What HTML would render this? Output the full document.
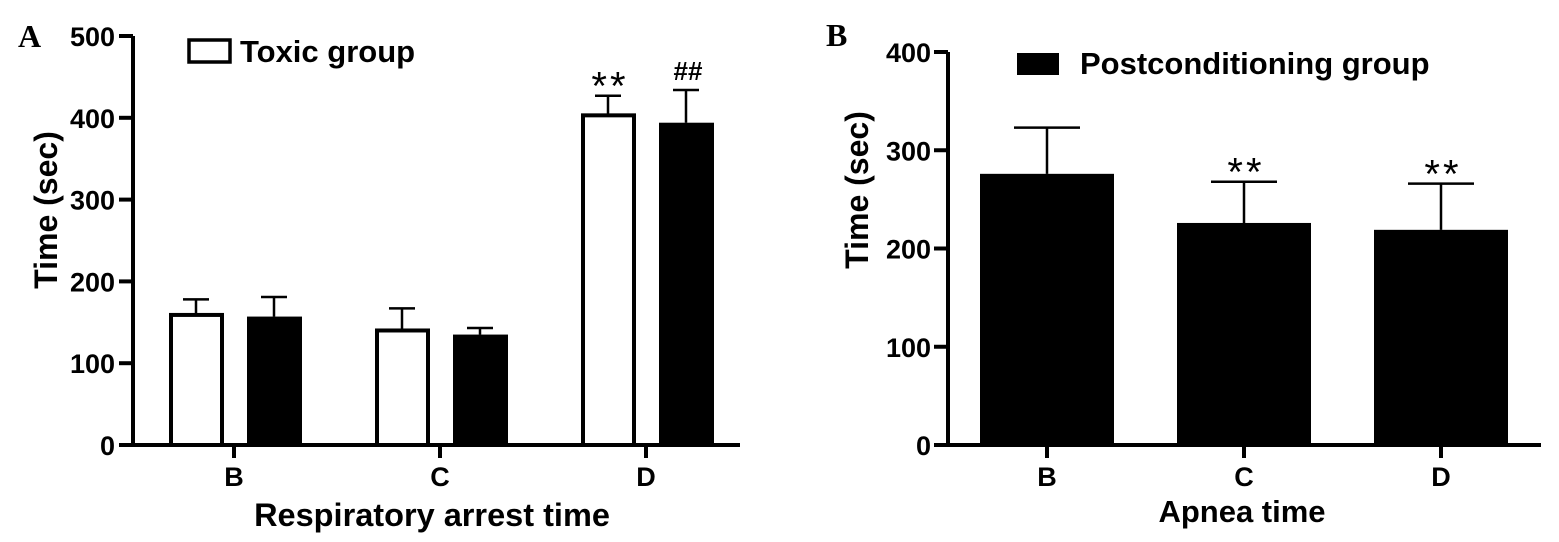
<!DOCTYPE html>
<html><head><meta charset="utf-8"><style>
html,body{margin:0;padding:0;background:#fff}
svg{display:block}
text{font-family:"Liberation Sans",Arial,sans-serif;font-weight:bold;fill:#000}
.pl{font-family:"Liberation Serif",serif;font-size:32px}
.ast{font-family:"Liberation Sans",sans-serif;font-weight:normal;letter-spacing:3px}
</style></head><body>
<svg id="chart" width="1559" height="542" viewBox="0 0 1559 542" xmlns="http://www.w3.org/2000/svg"></svg>
<script>
const catsA=["B","C","D"];
const toxicVals=[159,140,403];
const toxicErr=[178,167,427];
const postValsA=[157,135,394];
const postErrA=[181,143,434];
const marksA=["**","##"];
const ticksA=[0,100,200,300,400,500];
const catsB=["B","C","D"];
const postValsB=[276,226,219];
const postErrB=[323,268,266];
const marksB=["","**","**"];
const ticksB=[0,100,200,300,400];

const svg=document.getElementById('chart');
const NS="http://www.w3.org/2000/svg";
function el(tag,attrs,txt){const e=document.createElementNS(NS,tag);for(const k in attrs)e.setAttribute(k,attrs[k]);if(txt!==undefined)e.textContent=txt;svg.appendChild(e);return e;}

// Panel A
const yA=v=>445-v*0.818;
const xA=i=>234+i*206;
let t=el('text',{class:'pl',x:18,y:47},'A');

let ax=el('path',{d:'M133,36 V445 H740',stroke:'#000','stroke-width':4,fill:'none'});

ticksA.forEach(v=>{
 let l=el('line',{x1:119,x2:133,y1:yA(v),y2:yA(v),stroke:'#000','stroke-width':4});
 
 let tx=el('text',{x:115,y:yA(v)+10,'text-anchor':'end','font-size':27},String(v));
 
});
catsA.forEach((c,i)=>{
 let l=el('line',{x1:xA(i),x2:xA(i),y1:445,y2:458,stroke:'#000','stroke-width':4});
 
 let tx=el('text',{x:xA(i),y:486,'text-anchor':'middle','font-size':27},c);
 
 [[toxicVals[i],toxicErr[i],xA(i)-38],[postValsA[i],postErrA[i],xA(i)+40]].forEach((d,j)=>{
  let e=el('path',{d:`M${d[2]},${yA(d[0])} V${yA(d[1])} M${d[2]-13},${yA(d[1])} H${d[2]+13}`,stroke:'#000','stroke-width':2.5,fill:'none'});
  
 });
 let w=el('rect',{x:xA(i)-63,y:yA(toxicVals[i]),width:51,height:445-yA(toxicVals[i]),fill:'#fff',stroke:'#000','stroke-width':4});
 
 let b=el('rect',{x:xA(i)+13,y:yA(postValsA[i]),width:55,height:445-yA(postValsA[i]),fill:'#000'});
 
});
let m1=el('text',{class:'ast',x:xA(2)-36,y:yA(toxicErr[2])+4,'text-anchor':'middle','font-size':40},marksA[0]);

let m2=el('text',{x:xA(2)+42,y:yA(postErrA[2])-10,'text-anchor':'middle','font-size':26,'font-weight':'normal'},marksA[1]);

let lb=el('rect',{x:189,y:40,width:41,height:22,fill:'#fff',stroke:'#000','stroke-width':3.5});

let lt=el('text',{x:240,y:62,'font-size':31},'Toxic group');

let xt=el('text',{x:432,y:526,'text-anchor':'middle','font-size':32.5},'Respiratory arrest time');

let yt=el('text',{x:0,y:0,'text-anchor':'middle','font-size':32,transform:'translate(57,210) rotate(-90)'},'Time (sec)');


// Panel B
const yB=v=>445-v*0.9825;
const xB=i=>1047+i*197;
t=el('text',{class:'pl',x:826,y:46},'B');

ax=el('path',{d:'M948,52 V445 H1541',stroke:'#000','stroke-width':4,fill:'none'});

ticksB.forEach(v=>{
 let l=el('line',{x1:934,x2:948,y1:yB(v),y2:yB(v),stroke:'#000','stroke-width':4});
 
 let tx=el('text',{x:931,y:yB(v)+10,'text-anchor':'end','font-size':27},String(v));
 
});
catsB.forEach((c,i)=>{
 let l=el('line',{x1:xB(i),x2:xB(i),y1:445,y2:458,stroke:'#000','stroke-width':4});
 
 let tx=el('text',{x:xB(i),y:486,'text-anchor':'middle','font-size':27},c);
 
 let e=el('path',{d:`M${xB(i)},${yB(postValsB[i])} V${yB(postErrB[i])} M${xB(i)-33},${yB(postErrB[i])} H${xB(i)+33}`,stroke:'#000','stroke-width':2.5,fill:'none'});
 
 let b=el('rect',{x:xB(i)-67,y:yB(postValsB[i]),width:134,height:445-yB(postValsB[i]),fill:'#000'});
 
 if(marksB[i]){
  let m=el('text',{class:'ast',x:xB(i)+2,y:yB(postErrB[i])+4,'text-anchor':'middle','font-size':40},marksB[i]);
  
 }
});
lb=el('rect',{x:1017,y:53,width:42,height:22,fill:'#000'});

lt=el('text',{x:1080,y:74,'font-size':31},'Postconditioning group');

xt=el('text',{x:1242,y:522,'text-anchor':'middle','font-size':31},'Apnea time');

yt=el('text',{x:0,y:0,'text-anchor':'middle','font-size':32,transform:'translate(868,190) rotate(-90)'},'Time (sec)');

</script>
</body></html>
